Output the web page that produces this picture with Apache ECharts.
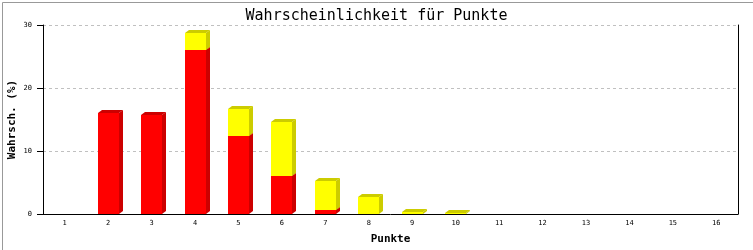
<!DOCTYPE html>
<html><head><meta charset="utf-8">
<script src="https://cdn.jsdelivr.net/npm/echarts@6/dist/echarts.min.js"></script>
<style>html,body{margin:0;padding:0;background:#fff}#c{width:753px;height:250px}</style>
</head><body><div id="c"></div>
<script>
var categories = ['1','2','3','4','5','6','7','8','9','10','11','12','13','14','15','16'];
var redValues    = [0, 16.0, 15.7, 26.0, 12.4, 6.0, 0.6, 0, 0, 0, 0, 0, 0, 0, 0, 0];
var yellowValues = [0, 0, 0, 2.7, 4.3, 8.6, 4.6, 2.7, 0.3, 0.2, 0, 0, 0, 0, 0, 0];
var yTicks = [0, 10, 20, 30];

var FONT = '"DejaVu Sans Mono", monospace';
function build(vals, bases) {
  return vals.map(function (v, i) { return [i, bases ? bases[i] : 0, v]; });
}
function makeRender(front, dark) {
  return function (params, api) {
    var v = api.value(2);
    if (!v) return;
    var i = api.value(0), b = api.value(1);
    var p0 = api.coord([i, b]);
    var p1 = api.coord([i, b + v]);
    var w = api.size([1, 0])[0] * 0.484;
    var x0 = Math.round(p0[0] - w / 2), x1 = Math.round(x0 + w);
    var yb = Math.round(p0[1]), yt = Math.round(p1[1]);
    var dx = 4, dy = 3;
    return {
      type: 'group',
      children: [
        { type: 'polygon', shape: { points: [[x1, yt], [x1 + dx, yt - dy], [x1 + dx, yb - dy], [x1, yb]] }, style: { fill: dark } },
        { type: 'polygon', shape: { points: [[x0, yt], [x0 + dx, yt - dy], [x1 + dx, yt - dy], [x1, yt]] }, style: { fill: dark } },
        { type: 'rect', shape: { x: x0, y: yt, width: x1 - x0, height: yb - yt }, style: { fill: front } }
      ]
    };
  };
}

var chart = echarts.init(document.getElementById('c'), null, { renderer: 'canvas' });
chart.setOption({
  backgroundColor: '#fff',
  animation: false,
  title: {
    text: 'Wahrscheinlichkeit für Punkte', left: 'center', top: 4,
    textStyle: { fontFamily: FONT, fontSize: 15, fontWeight: 'normal', color: '#000' }
  },
  graphic: [{
    type: 'rect', left: 0, top: 0, silent: true,
    shape: { x: 0.5, y: 0.5, width: 752, height: 249 },
    style: { fill: 'none', stroke: '#999', lineWidth: 1 }
  }],
  grid: { left: 43, right: 15, top: 25, bottom: 36, containLabel: false, outerBoundsMode: 'none' },
  xAxis: {
    type: 'category', data: categories, boundaryGap: true,
    name: 'Punkte', nameLocation: 'middle', nameGap: 20,
    nameTextStyle: { fontFamily: FONT, fontSize: 11, fontWeight: 'bold', color: '#000' },
    axisLine: { lineStyle: { color: '#000', width: 1 } },
    axisTick: { show: false },
    axisLabel: { fontFamily: FONT, fontSize: 7, color: '#000', margin: 6 }
  },
  yAxis: [{
    type: 'value', min: 0, max: 30, interval: 10,
    name: 'Wahrsch. (%)', nameLocation: 'middle', nameGap: 25, nameMoveOverlap: false,
    nameTextStyle: { fontFamily: FONT, fontSize: 11, fontWeight: 'bold', color: '#000' },
    axisLine: { show: true, lineStyle: { color: '#000' } },
    axisTick: { show: true, length: 6, lineStyle: { color: '#000' } },
    axisLabel: { fontFamily: FONT, fontSize: 7, color: '#000', margin: 11,
      formatter: function (v) { return yTicks.indexOf(v) >= 0 ? String(v) : ''; } },
    splitLine: { show: true, lineStyle: { color: '#c0c0c0', type: [3, 3] } }
  }, {
    type: 'value', min: 0, max: 30, interval: 10, position: 'right',
    axisLine: { show: true, lineStyle: { color: '#000' } },
    axisTick: { show: false }, axisLabel: { show: false }, splitLine: { show: false }
  }],
  series: [{
    type: 'custom', name: 'rot', renderItem: makeRender('#ff0000', '#cc0000'),
    data: build(redValues), encode: { x: 0, y: [1, 2] }
  }, {
    type: 'custom', name: 'gelb', renderItem: makeRender('#ffff00', '#cccc00'),
    data: build(yellowValues, redValues), encode: { x: 0, y: [1, 2] }
  }]
});
</script></body></html>
